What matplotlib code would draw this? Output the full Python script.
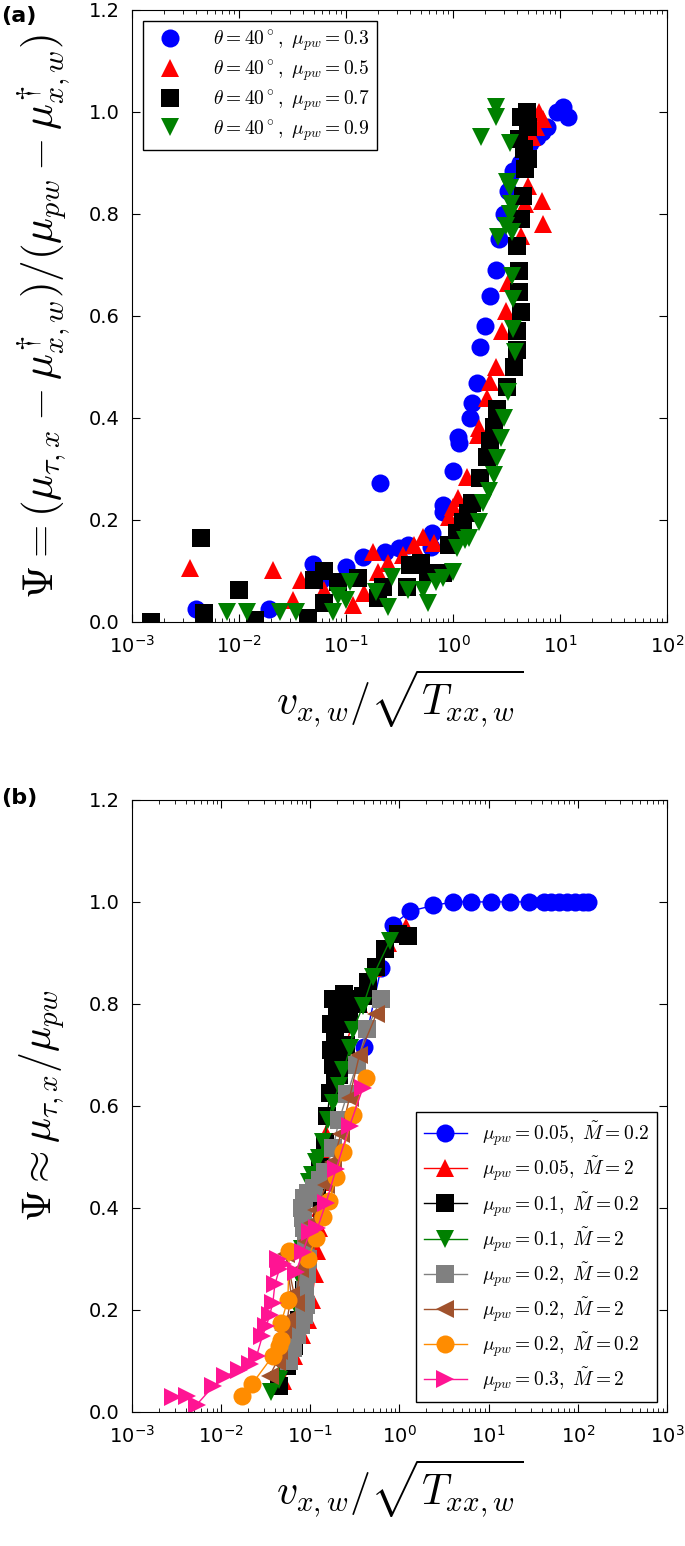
import numpy as np
import matplotlib
matplotlib.use('Agg')
import matplotlib.pyplot as plt
from matplotlib.ticker import FuncFormatter, LogLocator

# ---- panel (a): theta = 40 deg, different mu_pw ----
a_x_03 = [0.004, 0.019, 0.049, 0.058, 0.10, 0.143, 0.21, 0.23, 0.31, 0.38, 0.62, 0.64, 0.80, 0.81, 1.0, 1.12, 1.15,
          1.45, 1.5, 1.66, 1.8, 2.0, 2.2, 2.5, 2.7, 3.0, 3.3, 3.6, 4.2, 4.6, 5.2, 6.1, 6.8, 7.6, 9.3, 10.7, 12.0]
a_y_03 = [0.025, 0.025, 0.114, 0.083, 0.108, 0.128, 0.273, 0.138, 0.145, 0.151, 0.147, 0.175, 0.216, 0.23, 0.295, 0.363, 0.35,
          0.40, 0.43, 0.468, 0.54, 0.58, 0.64, 0.69, 0.75, 0.80, 0.845, 0.885, 0.90, 0.92, 0.94, 0.95, 0.96, 0.97, 1.0, 1.01, 0.99]

a_x_05 = [0.0035, 0.021, 0.032, 0.038, 0.062, 0.117, 0.146, 0.18, 0.20, 0.245, 0.34, 0.43, 0.52, 0.66, 0.91, 1.0, 1.12,
          1.36, 1.7, 1.75, 2.1, 2.2, 2.5, 2.9, 3.1, 3.3, 4.3, 4.7, 5.0, 5.5, 6.0, 6.3, 6.8, 6.9, 6.9]
a_y_05 = [0.106, 0.102, 0.043, 0.083, 0.063, 0.033, 0.057, 0.138, 0.098, 0.116, 0.132, 0.151, 0.167, 0.155, 0.206, 0.226, 0.243,
          0.285, 0.367, 0.38, 0.44, 0.47, 0.50, 0.57, 0.61, 0.665, 0.756, 0.82, 0.855, 0.95, 0.97, 1.0, 0.825, 0.78, 0.986]

a_x_07 = [0.0015, 0.0044, 0.0047, 0.010, 0.014, 0.044, 0.050, 0.062, 0.062, 0.085, 0.13, 0.20, 0.22, 0.37, 0.40, 0.50,
          0.58, 0.80, 0.91, 1.1, 1.25, 1.39, 1.5, 1.8, 2.1, 2.2, 2.4, 2.6, 3.2, 3.7, 4.0, 4.0, 4.3, 4.1, 4.1, 4.0, 4.3,
          4.5, 4.7, 4.6, 4.1, 4.3, 4.9, 5.0, 5.0]
a_y_07 = [0.0, 0.165, 0.018, 0.063, 0.003, 0.008, 0.083, 0.099, 0.037, 0.079, 0.086, 0.047, 0.069, 0.069, 0.112, 0.116,
          0.096, 0.096, 0.151, 0.175, 0.195, 0.214, 0.234, 0.283, 0.324, 0.354, 0.383, 0.417, 0.46, 0.50, 0.534, 0.57, 0.607,
          0.646, 0.688, 0.737, 0.79, 0.835, 0.888, 0.927, 0.947, 0.99, 1.0, 0.97, 0.908]

a_x_09 = [0.0077, 0.012, 0.024, 0.034, 0.076, 0.085, 0.10, 0.11, 0.19, 0.245, 0.27, 0.38, 0.52, 0.59, 0.69, 0.80, 1.0,
          1.1, 1.3, 1.4, 1.74, 1.9, 2.15, 2.4, 2.6, 2.8, 3.0, 3.3, 3.8, 3.65, 3.6, 3.55, 2.65, 3.55, 3.1, 3.4, 3.45,
          3.4, 3.2, 3.4, 1.84, 2.5, 2.5]
a_y_09 = [0.02, 0.02, 0.02, 0.02, 0.02, 0.05, 0.043, 0.079, 0.059, 0.03, 0.088, 0.063, 0.063, 0.037, 0.079, 0.086, 0.098,
          0.145, 0.161, 0.165, 0.196, 0.234, 0.256, 0.289, 0.322, 0.36, 0.40, 0.45, 0.53, 0.574, 0.633, 0.678, 0.754, 0.764,
          0.776, 0.80, 0.82, 0.85, 0.862, 0.94, 0.95, 0.99, 1.01]

# ---- panel (b): different mu_pw and M ----
b_x_1 = [0.40, 0.62, 0.84, 1.32, 2.4, 4.0, 6.3, 10.5, 17.5, 28, 42, 50, 61, 75, 93, 115, 130]
b_y_1 = [0.716, 0.87, 0.955, 0.982, 0.993, 1.0, 1.0, 1.0, 1.0, 1.0, 1.0, 1.0, 1.0, 1.0, 1.0, 1.0, 1.0]

b_x_2 = [0.05, 0.065, 0.081, 0.095, 0.104, 0.113, 0.12, 0.125, 0.13, 0.138, 0.145, 0.15, 0.16, 0.19, 0.25, 0.35, 0.5, 0.75, 1.19]
b_y_2 = [0.06, 0.11, 0.15, 0.18, 0.22, 0.27, 0.316, 0.36, 0.40, 0.45, 0.50, 0.545, 0.58, 0.64, 0.72, 0.80, 0.87, 0.92, 0.95]

b_x_3 = [0.045, 0.055, 0.065, 0.075, 0.085, 0.095, 0.105, 0.118, 0.13, 0.145, 0.155, 0.166, 0.19, 0.21, 0.18, 0.17,
         0.22, 0.25, 0.19, 0.17, 0.23, 0.27, 0.20, 0.18, 0.24, 0.28, 0.30, 0.34, 0.39, 0.44, 0.55, 0.68, 0.95, 1.26]
b_y_3 = [0.05, 0.09, 0.13, 0.18, 0.24, 0.30, 0.36, 0.42, 0.48, 0.53, 0.58, 0.626, 0.65, 0.66, 0.68, 0.71,
         0.70, 0.72, 0.74, 0.76, 0.76, 0.78, 0.79, 0.81, 0.82, 0.81, 0.80, 0.80, 0.816, 0.843, 0.873, 0.907, 0.938, 0.934]

b_x_4 = [0.036, 0.045, 0.05, 0.06, 0.066, 0.069, 0.072, 0.076, 0.08, 0.086, 0.092, 0.097, 0.105, 0.116, 0.126, 0.14,
         0.157, 0.18, 0.21, 0.235, 0.28, 0.30, 0.39, 0.50, 0.78]
b_y_4 = [0.04, 0.063, 0.085, 0.11, 0.13, 0.142, 0.2, 0.26, 0.32, 0.36, 0.41, 0.45, 0.464, 0.49, 0.498, 0.53,
         0.572, 0.606, 0.64, 0.67, 0.714, 0.748, 0.796, 0.853, 0.924]

b_x_5 = [0.058, 0.064, 0.07, 0.078, 0.085, 0.09, 0.088, 0.092, 0.094, 0.09, 0.086, 0.082, 0.08, 0.085, 0.095, 0.11,
         0.13, 0.145, 0.18, 0.21, 0.26, 0.33, 0.43, 0.62]
b_y_5 = [0.10, 0.125, 0.15, 0.17, 0.19, 0.21, 0.24, 0.27, 0.30, 0.33, 0.36, 0.38, 0.40, 0.42, 0.43, 0.44,
         0.455, 0.47, 0.518, 0.572, 0.623, 0.68, 0.75, 0.81]

b_x_6 = [0.035, 0.042, 0.045, 0.049, 0.055, 0.061, 0.053, 0.069, 0.076, 0.09, 0.105, 0.117, 0.15, 0.18, 0.22, 0.275, 0.355, 0.55]
b_y_6 = [0.071, 0.098, 0.12, 0.16, 0.18, 0.23, 0.31, 0.213, 0.28, 0.335, 0.37, 0.396, 0.444, 0.49, 0.545, 0.616, 0.70, 0.78]

b_x_7 = [0.017, 0.022, 0.038, 0.045, 0.047, 0.047, 0.056, 0.058, 0.093, 0.117, 0.138, 0.162, 0.195, 0.23, 0.30, 0.42]
b_y_7 = [0.031, 0.054, 0.11, 0.13, 0.142, 0.175, 0.22, 0.316, 0.30, 0.342, 0.383, 0.413, 0.46, 0.51, 0.582, 0.655]

b_x_8 = [0.0029, 0.0041, 0.0053, 0.0081, 0.011, 0.016, 0.021, 0.025, 0.029, 0.032, 0.035, 0.038, 0.04, 0.045, 0.05,
         0.043, 0.069, 0.082, 0.099, 0.12, 0.15, 0.195, 0.275, 0.39]
b_y_8 = [0.03, 0.032, 0.014, 0.05, 0.07, 0.083, 0.095, 0.11, 0.149, 0.168, 0.19, 0.214, 0.25, 0.28, 0.29,
         0.30, 0.274, 0.313, 0.353, 0.36, 0.41, 0.477, 0.56, 0.636]

a_series = [(a_x_03, a_y_03, 'o', 'b', 0.3), (a_x_05, a_y_05, '^', 'r', 0.5),
            (a_x_07, a_y_07, 's', 'k', 0.7), (a_x_09, a_y_09, 'v', 'g', 0.9)]
b_series = [(b_x_1, b_y_1, 'o', 'b', '0.05', '0.2'), (b_x_2, b_y_2, '^', 'r', '0.05', '2'),
            (b_x_3, b_y_3, 's', 'k', '0.1', '0.2'), (b_x_4, b_y_4, 'v', 'g', '0.1', '2'),
            (b_x_5, b_y_5, 's', 'gray', '0.2', '0.2'), (b_x_6, b_y_6, '<', 'sienna', '0.2', '2'),
            (b_x_7, b_y_7, 'o', 'darkorange', '0.2', '0.2'), (b_x_8, b_y_8, '>', 'deeppink', '0.3', '2')]

plt.rcParams['mathtext.fontset'] = 'cm'
plt.rcParams['xtick.direction'] = 'in'
plt.rcParams['ytick.direction'] = 'in'
plt.rcParams['xtick.top'] = True
plt.rcParams['ytick.right'] = True
plt.rcParams['xtick.major.size'] = 6
plt.rcParams['ytick.major.size'] = 6
plt.rcParams['xtick.minor.size'] = 3
plt.rcParams['ytick.minor.size'] = 3
plt.rcParams['legend.fancybox'] = False
plt.rcParams['legend.edgecolor'] = 'k'
plt.rcParams['legend.framealpha'] = 1


def logfmt(v, pos):
    return r'$\mathregular{10^{%d}}$' % int(round(np.log10(v)))


def style_axes(ax, xmax):
    ax.set_xscale('log')
    ax.set_xlim(1e-3, xmax)
    ax.set_ylim(0, 1.2)
    ax.set_yticks(np.arange(0, 1.21, 0.2))
    ax.yaxis.set_major_formatter(FuncFormatter(lambda v, p: '%.1f' % v))
    ax.xaxis.set_major_locator(LogLocator(base=10, numticks=10))
    ax.xaxis.set_major_formatter(FuncFormatter(logfmt))
    ax.tick_params(labelsize=14, pad=9)
    ax.set_xlabel(r'$v_{x,w}/\sqrt{T_{xx,w}}$', fontsize=30, labelpad=8)


fig = plt.figure(figsize=(6.85, 15.46), dpi=100)

# (a)
ax1 = fig.add_axes([0.1927, 0.5977, 0.781, 0.3959])
for xs, ys, m, c, mu in a_series:
    ax1.plot(xs, ys, m, color=c, ms=13, mew=0, linestyle='none',
             label=r'$\theta=40^\circ,\ \mu_{pw}=%s$' % mu)
style_axes(ax1, 1e2)
ax1.set_ylabel(r'$\Psi=(\mu_{\tau,x}-\mu^{\dagger}_{x,w})/(\mu_{pw}-\mu^{\dagger}_{x,w})$', fontsize=31, labelpad=12)
ax1.legend(loc='upper left', numpoints=1, fontsize=14, handletextpad=1.2, labelspacing=0.25,
           borderaxespad=0.55)

# (b)
ax2 = fig.add_axes([0.1927, 0.0867, 0.781, 0.3959])
for xs, ys, m, c, mu, mt in b_series:
    ax2.plot(xs, ys, marker=m, color=c, ms=13, mew=0, lw=1,
             label=r'$\mu_{pw}=%s,\ \tilde{M}=%s$' % (mu, mt))
style_axes(ax2, 1e3)
ax2.set_ylabel(r'$\Psi\approx\mu_{\tau,x}/\mu_{pw}$', fontsize=30, labelpad=16)
ax2.legend(loc='lower right', numpoints=1, fontsize=14, handlelength=2.2, labelspacing=0.32)

fig.text(0.002, 0.996, '(a)', fontsize=16, fontweight='bold', va='top')
fig.text(0.002, 0.490, '(b)', fontsize=16, fontweight='bold', va='top')

fig.savefig('out.png', dpi=100, facecolor='white')
